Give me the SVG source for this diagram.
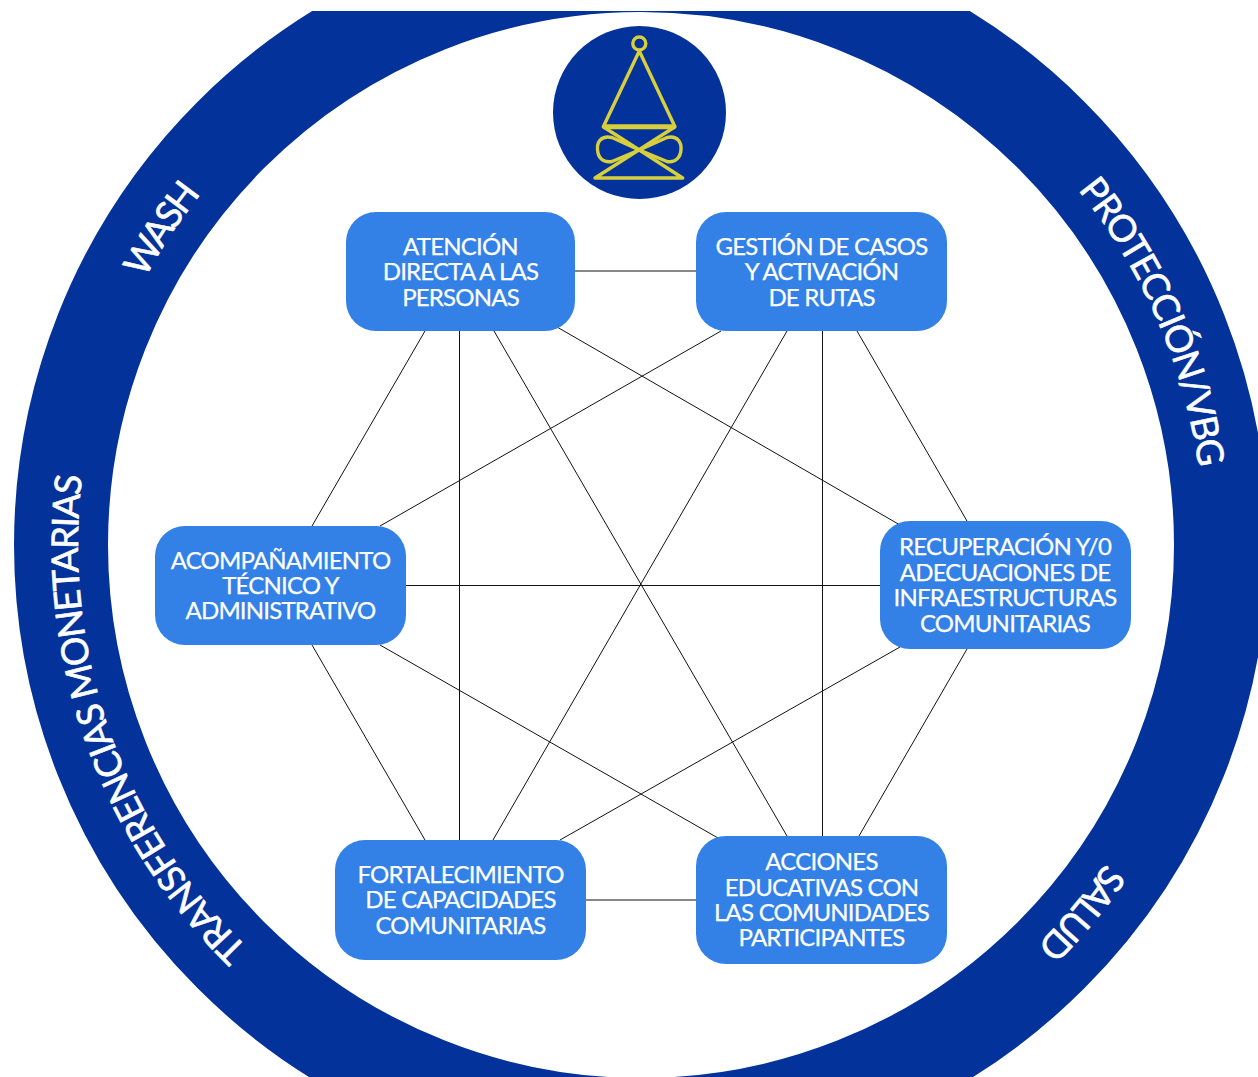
<svg xmlns="http://www.w3.org/2000/svg" width="1258" height="1077" viewBox="0 0 1258 1077">
<style>
.n{fill:#3381e6}
.t{font-family:"Lato","Liberation Sans",sans-serif;font-size:24px;letter-spacing:-0.8px;fill:#fff;stroke:#fff;stroke-width:0.25px;text-anchor:middle}
.r{font-family:"Lato","Liberation Sans",sans-serif;font-size:37px;fill:#fff;stroke:#fff;stroke-width:0.6px;text-anchor:middle;letter-spacing:-1.5px}
.s{letter-spacing:-2.6px}
.m{letter-spacing:-1.7px}
.c line{stroke:#111;stroke-width:1}
.y{fill:none;stroke:#d8cf3c;stroke-width:3.4;stroke-linejoin:round}
</style>
<defs>
<clipPath id="clip"><rect x="0" y="11" width="1258" height="1066"/></clipPath>
<path id="arc" d="M641 1108A563 563 0 1 1 641 -18A563 563 0 1 1 641 1108"/>
</defs>
<rect width="1258" height="1077" fill="#fff"/>
<g id="ring">
<g clip-path="url(#clip)"><circle cx="641" cy="545" r="580" fill="none" stroke="#03339a" stroke-width="94"/></g>
<text class="r m"><textPath href="#arc" startOffset="19.6%">TRANSFERENCIAS MONETARIAS</textPath></text>
<text class="r s"><textPath href="#arc" startOffset="34.25%">WASH</textPath></text>
<text class="r"><textPath href="#arc" startOffset="68.45%">PROTECCIÓN/VBG</textPath></text>
<text class="r s"><textPath href="#arc" startOffset="86.05%">SALUD</textPath></text>
</g>
<g id="logo">
<circle cx="639.5" cy="112.5" r="86.5" fill="#03339a"/>
<circle class="y" cx="639.3" cy="43.5" r="6.500"/>
<path class="y" d="M639.3 51L603.3 126.7H675Z"/>
<path class="y" style="stroke-width:5" d="M603.3 126.7H675"/>
<path class="y" d="M603.3 126.7L682.7 178H595L675 126.7"/>
<path class="y" d="M639.3 150L612 137.5C600 135 597 143 597.5 149.5C598 157 602 163 612 161.5ZM639.3 150L667 137.5C678 135 681.500 143 681 149.500C680.500 157 676 163 667 161.500Z"/>
</g>
<g id="connectors" class="c">
<line x1="575" y1="271" x2="696" y2="271"/>
<line x1="406" y1="585.500" x2="880" y2="585.500"/>
<line x1="586" y1="900" x2="696" y2="900"/>
<line x1="459.500" y1="331" x2="459.500" y2="840"/>
<line x1="822.500" y1="331" x2="822.500" y2="836"/>
<line x1="425" y1="331" x2="312" y2="526"/>
<line x1="494" y1="331" x2="787" y2="836"/>
<line x1="557" y1="327" x2="900" y2="525"/>
<line x1="857" y1="331" x2="967" y2="521"/>
<line x1="721" y1="331" x2="380" y2="526"/>
<line x1="787" y1="331" x2="493" y2="840"/>
<line x1="967" y1="649" x2="859" y2="836"/>
<line x1="900" y1="647" x2="560" y2="840"/>
<line x1="312" y1="645" x2="425" y2="840"/>
<line x1="380" y1="645" x2="718" y2="838"/>
</g>
<g id="node-atencion"><rect class="n" x="346" y="212" width="229" height="119" rx="30"/>
<text class="t" x="460.500" y="255">ATENCIÓN</text><text class="t" x="460.500" y="280">DIRECTA A LAS</text><text class="t" x="460.500" y="306">PERSONAS</text></g>
<g id="node-gestion"><rect class="n" x="696" y="212" width="251" height="119" rx="30"/>
<text class="t" x="821.500" y="255">GESTIÓN DE CASOS</text><text class="t" x="821.500" y="280">Y ACTIVACIÓN</text><text class="t" x="821.500" y="306">DE RUTAS</text></g>
<g id="node-recuperacion"><rect class="n" x="880" y="521" width="251" height="128" rx="30"/>
<text class="t" x="1005" y="555">RECUPERACIÓN Y/0</text><text class="t" x="1005" y="581">ADECUACIONES DE</text><text class="t" x="1005" y="606">INFRAESTRUCTURAS</text><text class="t" x="1005" y="632">COMUNITARIAS</text></g>
<g id="node-acciones"><rect class="n" x="696" y="836" width="251" height="128" rx="30"/>
<text class="t" x="821.500" y="870">ACCIONES</text><text class="t" x="821.500" y="896">EDUCATIVAS CON</text><text class="t" x="821.500" y="921">LAS COMUNIDADES</text><text class="t" x="821.500" y="946">PARTICIPANTES</text></g>
<g id="node-fortalecimiento"><rect class="n" x="335" y="840" width="251" height="120" rx="30"/>
<text class="t" x="460.500" y="883">FORTALECIMIENTO</text><text class="t" x="460.500" y="908">DE CAPACIDADES</text><text class="t" x="460.500" y="934">COMUNITARIAS</text></g>
<g id="node-acompanamiento"><rect class="n" x="155" y="526" width="251" height="119" rx="30"/>
<text class="t" x="280.500" y="569">ACOMPAÑAMIENTO</text><text class="t" x="280.500" y="594">TÉCNICO Y</text><text class="t" x="280.500" y="619">ADMINISTRATIVO</text></g>
</svg>
